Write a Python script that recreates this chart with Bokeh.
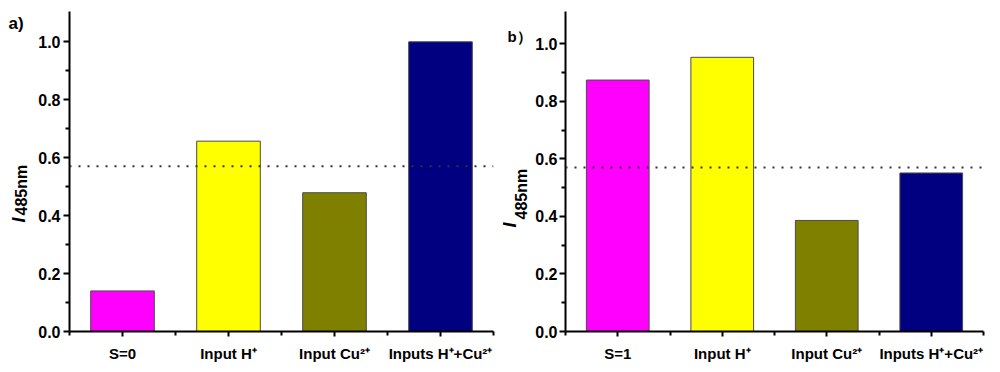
import math
from bokeh.plotting import figure
from bokeh.models import Range1d, FixedTicker, Span
from bokeh.core.properties import value
from bokeh.layouts import row
from bokeh.embed import file_html
from bokeh.resources import INLINE

# ---------------- data ----------------
labels_a = ["S=0", "Input H⁺", "Input Cu²⁺", "Inputs H⁺+Cu²⁺"]
values_a = [0.140, 0.657, 0.479, 1.000]
labels_b = ["S=1", "Input H⁺", "Input Cu²⁺", "Inputs H⁺+Cu²⁺"]
values_b = [0.874, 0.953, 0.386, 0.551]
bar_colors = ["#FF00FF", "#FFFF00", "#808000", "#000080"]
threshold = 0.57
y_ticks = [0.0, 0.2, 0.4, 0.6, 0.8, 1.0]
y_minor = [0.1, 0.3, 0.5, 0.7, 0.9]

FONT = "Liberation Sans"
H = 370            # canvas height of every figure in the row
FRAME_TOP = 11     # frames of all figures in a row share top/bottom edges
FRAME_BOTTOM = 331


def make_panel(labels, values, width, b_left, b_right, px_per_unit, standoff):
    xs = [i + 1 for i in range(len(labels))]
    y_top = (FRAME_BOTTOM - FRAME_TOP) / px_per_unit
    p = figure(width=width, height=H, output_backend="svg", toolbar_location=None,
               x_range=Range1d(0.5, len(labels) + 0.5), y_range=Range1d(0, y_top),
               min_border_left=b_left, min_border_right=b_right,
               min_border_top=FRAME_TOP, min_border_bottom=H - FRAME_BOTTOM)
    p.outline_line_color = None
    p.grid.visible = False
    p.background_fill_color = "white"
    p.border_fill_color = "white"

    p.vbar(x=xs, top=values, width=0.6, fill_color=bar_colors,
           line_color="#4a4a4a", line_width=1)

    p.add_layout(Span(location=threshold, dimension="width", line_color="#333333",
                      line_width=2, line_dash="2 7"))

    for ax in (p.xaxis[0], p.yaxis[0]):
        ax.axis_line_width = 2
        ax.axis_line_color = "black"
        ax.major_tick_line_width = 2
        ax.minor_tick_line_width = 2
        ax.major_tick_line_color = "black"
        ax.minor_tick_line_color = "black"
        ax.major_tick_in = 0
        ax.minor_tick_in = 0
        ax.major_label_text_font = FONT
        ax.major_label_text_font_style = "bold"
        ax.major_label_text_color = "black"

    xa = p.xaxis[0]
    xa.ticker = FixedTicker(ticks=xs, minor_ticks=[x - 0.5 for x in xs] + [xs[-1] + 0.5])
    xa.major_label_overrides = {x: lab for x, lab in zip(xs, labels)}
    xa.major_tick_out = 5
    xa.minor_tick_out = 4
    xa.major_label_standoff = 8
    xa.major_label_text_font_size = "15px"

    ya = p.yaxis[0]
    ya.ticker = FixedTicker(ticks=y_ticks, minor_ticks=y_minor)
    ya.major_label_overrides = {t: f"{t:.1f}" for t in y_ticks}
    ya.major_tick_out = 6
    ya.minor_tick_out = 4
    ya.major_label_standoff = standoff
    ya.major_label_text_font_size = "16px"
    return p


def make_strip(page_left, page_right, tag, tag_size, tag_pos, i_pos, sub_pos):
    """Narrow axis-less figure holding the panel tag and the rotated y-axis title.
    Data x equals picture pixels; data y equals (H - picture y)."""
    w = page_right - page_left
    s = figure(width=w, height=H, output_backend="svg", toolbar_location=None,
               x_range=Range1d(page_left, page_right),
               y_range=Range1d(H - FRAME_BOTTOM, H - FRAME_TOP),
               x_axis_location=None, y_axis_location=None,
               min_border_left=0, min_border_right=0,
               min_border_top=FRAME_TOP, min_border_bottom=H - FRAME_BOTTOM)
    s.outline_line_color = None
    s.grid.visible = False
    s.background_fill_color = "white"
    s.border_fill_color = "white"

    def py(page_y):
        return H - page_y

    s.text(x=[tag_pos[0]], y=[py(tag_pos[1])], text=[tag],
           text_font=value(FONT), text_font_style="bold", text_font_size=tag_size,
           text_align="left", text_baseline="alphabetic", text_color="black")
    s.text(x=[i_pos[0]], y=[py(i_pos[1])], text=["I"], angle=math.pi / 2,
           text_font=value(FONT), text_font_style="bold italic", text_font_size="18px",
           text_align="left", text_baseline="alphabetic", text_color="black")
    s.text(x=[sub_pos[0]], y=[py(sub_pos[1])], text=["485nm"], angle=math.pi / 2,
           text_font=value(FONT), text_font_style="bold", text_font_size="16px",
           text_align="left", text_baseline="alphabetic", text_color="black")
    return s


strip_a = make_strip(0, 34, "a)", "17px", (8, 23), (18, 222), (21, 215))
pa = make_panel(labels_a, values_a, width=461, b_left=35, b_right=2,
                px_per_unit=289.7, standoff=3)
strip_b = make_strip(495, 532, "b）", "15px", (507, 36), (509, 227), (521, 219))
pb = make_panel(labels_b, values_b, width=458, b_left=31, b_right=7,
                px_per_unit=287.7, standoff=2)

layout = row(strip_a, pa, strip_b, pb)
open("out.html", "w").write(file_html(layout, INLINE))
